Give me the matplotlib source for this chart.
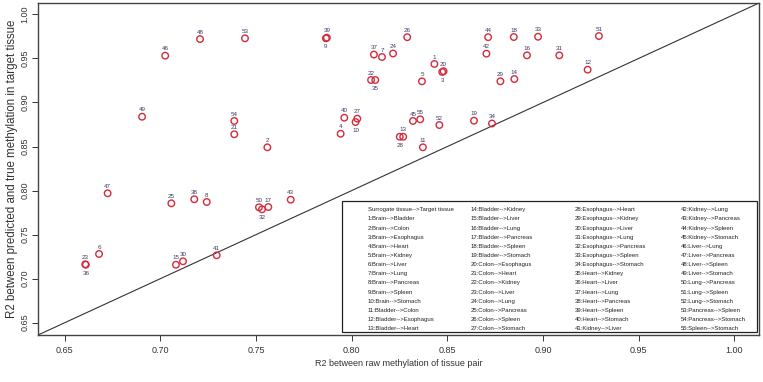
import numpy as np
import matplotlib.pyplot as plt
from matplotlib.patches import Rectangle

plt.rcParams['font.family'] = ['Liberation Sans Narrow', 'Liberation Sans', 'DejaVu Sans']

# tissue pairs, numbered 1..55
surrogate = ['Brain'] * 10 + ['Bladder'] * 9 + ['Colon'] * 8 + ['Esophagus'] * 7 + \
    ['Heart'] * 6 + ['Kidney'] * 5 + ['Liver'] * 4 + ['Lung'] * 3 + ['Pancreas'] * 2 + ['Spleen']
target = ['Bladder', 'Colon', 'Esophagus', 'Heart', 'Kidney', 'Liver', 'Lung', 'Pancreas', 'Spleen', 'Stomach',
          'Colon', 'Esophagus', 'Heart', 'Kidney', 'Liver', 'Lung', 'Pancreas', 'Spleen', 'Stomach',
          'Esophagus', 'Heart', 'Kidney', 'Liver', 'Lung', 'Pancreas', 'Spleen', 'Stomach',
          'Heart', 'Kidney', 'Liver', 'Lung', 'Pancreas', 'Spleen', 'Stomach',
          'Kidney', 'Liver', 'Lung', 'Pancreas', 'Spleen', 'Stomach',
          'Liver', 'Lung', 'Pancreas', 'Spleen', 'Stomach',
          'Lung', 'Pancreas', 'Spleen', 'Stomach',
          'Pancreas', 'Spleen', 'Stomach',
          'Spleen', 'Stomach',
          'Stomach']

# R2 between raw methylation of tissue pair
raw_r2 = [0.8432, 0.7559, 0.8473, 0.7942, 0.8367, 0.6679, 0.8158, 0.7242, 0.7865, 0.8020,
          0.8372, 0.9233, 0.8269, 0.8850, 0.7081, 0.8916, 0.7564, 0.8847, 0.8639, 0.8480,
          0.7386, 0.8101, 0.6607, 0.8216, 0.7057, 0.8290, 0.8029, 0.8251, 0.8777, 0.7118,
          0.9085, 0.7531, 0.8974, 0.8733, 0.8123, 0.6610, 0.8116, 0.7177, 0.7870, 0.7961,
          0.7294, 0.8704, 0.7681, 0.8713, 0.8320, 0.7025, 0.6724, 0.7207, 0.6904, 0.7515,
          0.9292, 0.8458, 0.7442, 0.7386, 0.8358]
# R2 between predicted and true methylation in target tissue
pred_r2 = [0.9437, 0.8491, 0.9346, 0.8645, 0.9240, 0.7280, 0.9516, 0.7870, 0.9728, 0.8778,
           0.8491, 0.9372, 0.8611, 0.9266, 0.7158, 0.9535, 0.7813, 0.9743, 0.8793, 0.9355,
           0.8639, 0.9255, 0.7163, 0.9556, 0.7855, 0.9741, 0.8816, 0.8611, 0.9240, 0.7197,
           0.9535, 0.7787, 0.9746, 0.8761, 0.9255, 0.7158, 0.9544, 0.7901, 0.9735, 0.8827,
           0.7265, 0.9554, 0.7896, 0.9741, 0.8790, 0.9531, 0.7969, 0.9720, 0.8838, 0.7810,
           0.9754, 0.8744, 0.9728, 0.8790, 0.8809]
# pairs whose number is written under the point
label_below = [3, 9, 10, 28, 32, 35, 36]

ticks = [0.65, 0.70, 0.75, 0.80, 0.85, 0.90, 0.95, 1.00]

fig = plt.figure(figsize=(7.63, 3.82), dpi=100)
ax = fig.add_axes([0.0498, 0.1230, 0.9450, 0.8691])

ax.plot([0, 2], [0, 2], color='#333333', lw=0.8, zorder=1)
ax.scatter(raw_r2, pred_r2, s=22, facecolors='none', edgecolors='#d42a3a', linewidths=1.0, zorder=3)

for i in range(len(raw_r2)):
    n = i + 1
    if n in label_below:
        ax.annotate(str(n), (raw_r2[i], pred_r2[i]), xytext=(0, -6), textcoords='offset points',
                    ha='center', va='center', fontsize=4.5, color='#3a3a6a')
    else:
        ax.annotate(str(n), (raw_r2[i], pred_r2[i]), xytext=(0, 5), textcoords='offset points',
                    ha='center', va='center', fontsize=4.5, color='#3a3a6a')

ax.set_xlim(0.636, 1.0129)
ax.set_ylim(0.636, 1.0129)
ax.set_xticks(ticks)
ax.set_yticks(ticks)
ax.set_xticklabels(['%.2f' % t for t in ticks])
ax.set_yticklabels(['%.2f' % t for t in ticks], rotation=90, va='center')
ax.tick_params(direction='out', length=4, width=0.7, labelsize=6.5, colors='#333333')
ax.tick_params(axis='x', pad=4)
ax.tick_params(axis='y', pad=2)
ax.set_xlabel('R2 between raw methylation of tissue pair', fontsize=6.5, color='#333333', labelpad=3)
ax.set_ylabel('R2 between predicted and true methylation in target tissue', fontsize=8.3,
              color='#333333', labelpad=2)
for s in ax.spines.values():
    s.set_color('#444444')
    s.set_linewidth(1.0)

# legend box with the numbered pairs
ax.add_patch(Rectangle((0.4216, 0.0081), 0.5756, 0.3964, transform=ax.transAxes,
                       facecolor='white', edgecolor='#222222', lw=0.9, zorder=4))
entries = ['Surrogate tissue-->Target tissue'] + \
    ['%d:%s-->%s' % (i + 1, surrogate[i], target[i]) for i in range(len(surrogate))]
col_x = [0.457, 0.6005, 0.7448, 0.8918]
for k, e in enumerate(entries):
    c = k // 14
    r = k % 14
    ax.text(col_x[c], 0.3774 - r * 0.02756, e, transform=ax.transAxes, fontsize=4.3,
            va='center', ha='left', color='#222222', zorder=5)

fig.savefig('out.png', dpi=100)
